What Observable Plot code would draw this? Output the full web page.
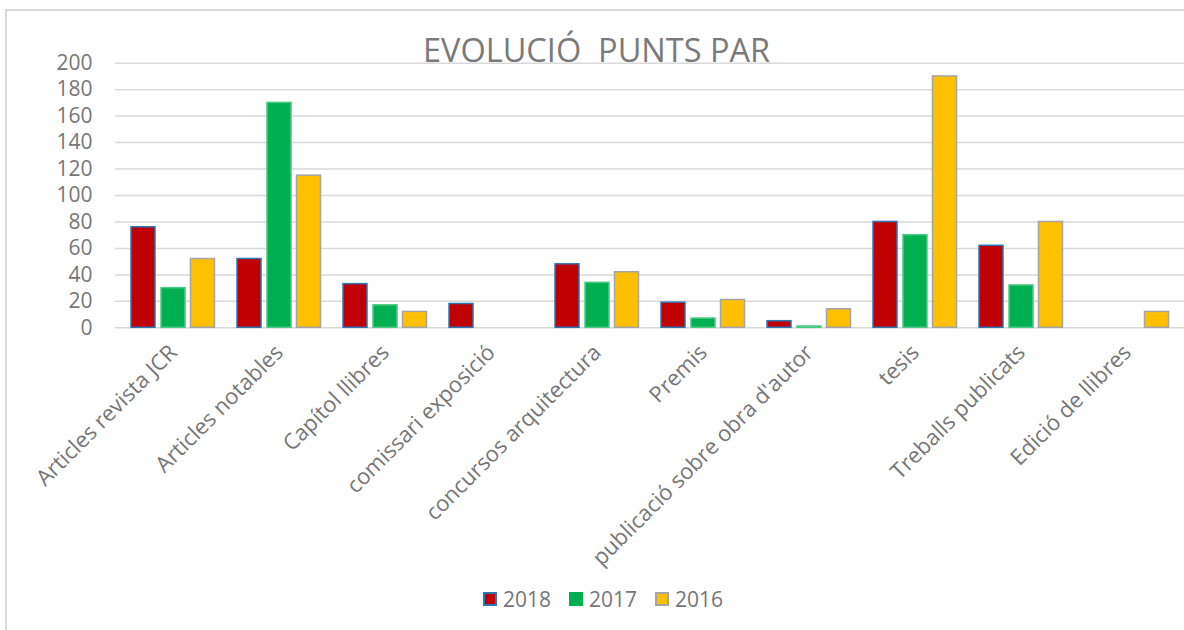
<!DOCTYPE html>
<html>
<head>
<meta charset="utf-8">
<script src="https://cdn.jsdelivr.net/npm/d3@7"></script>
<script src="https://cdn.jsdelivr.net/npm/@observablehq/plot@0.6"></script>
<style>
  body { margin: 0; background: #fff; font-family: "Open Sans", sans-serif; }
  #wrap { position: relative; width: 1184px; height: 630px; overflow: hidden; background: #fff; }
  #frame { position: absolute; left: 5px; top: 9px; width: 1300px; height: 700px; border: 2px solid #d9d9d9; box-sizing: border-box; }
  #chart { position: absolute; left: 0; top: 0; }
  #title { position: absolute; left: 423px; top: 34px; font-size: 32.5px; line-height: 1; color: #7a7a7a; white-space: pre; }
  #legend { position: absolute; left: 483px; top: 589px; display: flex; align-items: center; font-size: 21px; line-height: 20px; color: #767676; }
  .item { display: flex; align-items: center; margin-right: 18px; }
  .sw { width: 14px; height: 14px; box-sizing: border-box; border: 2px solid; margin-right: 6px; }
</style>
</head>
<body>
<div id="wrap">
  <div id="frame"></div>
  <div id="chart"></div>
  <div id="title"></div>
  <div id="legend"></div>
</div>
<script>
const titleText = "EVOLUCIÓ  PUNTS PAR";
const categories = [
  "Articles revista JCR",
  "Articles notables",
  "Capítol llibres",
  "comissari exposició",
  "concursos arquitectura",
  "Premis",
  "publicació sobre obra d'autor",
  "tesis",
  "Treballs publicats",
  "Edició de llibres"
];
const years = ["2018", "2017", "2016"];
const values2018 = [76, 52, 33, 18, 48, 19, 5, 80, 62, null];
const values2017 = [30, 170, 17, null, 34, 7, 1, 70, 32, null];
const values2016 = [52, 115, 12, null, 42, 21, 14, 190, 80, 12];
const yTicks = [0, 20, 40, 60, 80, 100, 120, 140, 160, 180, 200];

const fills = ["#C00000", "#00B050", "#FFC000"];
const strokes = ["#2E75B6", "#4CC986", "#A5A5A5"];
const offsets = [-30, 0, 29.5];
const seriesValues = [values2018, values2017, values2016];

const barMarks = seriesValues.map((vals, k) =>
  Plot.barY(categories, {
    x: d => d,
    y: (d, i) => vals[i],
    fill: fills[k],
    stroke: strokes[k],
    strokeWidth: 1.5,
    insetLeft: 41,
    insetRight: 41,
    dx: offsets[k]
  })
);

const svg = Plot.plot({
  width: 1184,
  height: 630,
  marginTop: 62.7,
  marginBottom: 302.7,
  marginLeft: 115,
  marginRight: 0,
  style: { fontFamily: "Open Sans", fontSize: "21px", color: "#767676", background: "transparent" },
  x: { domain: categories, padding: 0, label: null },
  y: { domain: [0, 200], label: null },
  marks: [
    Plot.gridY(yTicks, { stroke: "#d9d9d9", strokeOpacity: 1, strokeWidth: 1.5 }),
    Plot.axisY(yTicks, { tickSize: 0, tickPadding: 23, fontSize: 21, label: null }),
    Plot.axisX({ tickSize: 0, tickRotate: -45, tickPadding: 21, fontSize: 22, label: null }),
    ...barMarks
  ]
});
document.getElementById("chart").appendChild(svg);
document.getElementById("title").textContent = titleText;

const legend = document.getElementById("legend");
years.forEach((y, k) => {
  const item = document.createElement("div");
  item.className = "item";
  const sw = document.createElement("div");
  sw.className = "sw";
  sw.style.background = fills[k];
  sw.style.borderColor = k === 1 ? fills[k] : strokes[k];
  const t = document.createElement("span");
  t.textContent = y;
  item.appendChild(sw);
  item.appendChild(t);
  legend.appendChild(item);
});
</script>
</body>
</html>
